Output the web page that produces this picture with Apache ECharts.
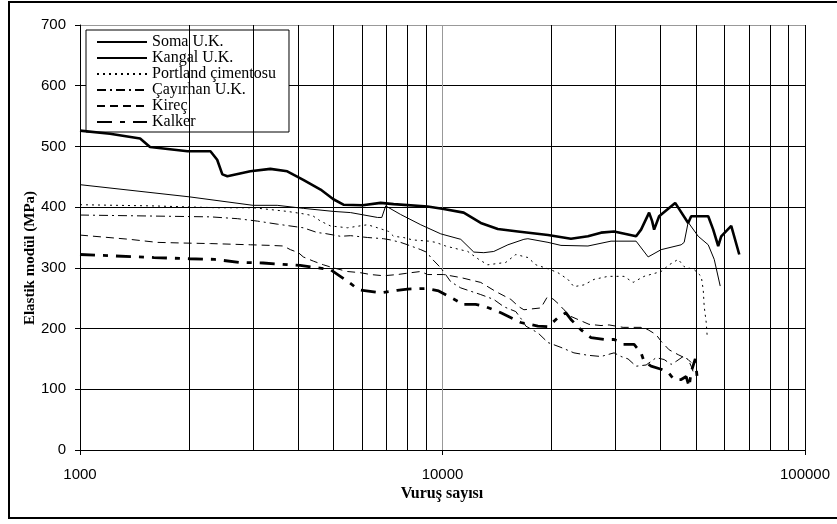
<!DOCTYPE html>
<html>
<head>
<meta charset="utf-8">
<script src="https://cdn.jsdelivr.net/npm/echarts@6/dist/echarts.min.js"></script>
<style>
html,body{margin:0;padding:0;background:#fff;}
#chart{width:837px;height:524px;}
</style>
</head>
<body>
<div id="chart"></div>
<script>
// Series names (legend)
const seriesNames = ['Soma U.K.', 'Kangal U.K.', 'Portland çimentosu', 'Çayırhan U.K.', 'Kireç', 'Kalker'];

// [vuruş sayısı, elastik modül (MPa)]
const soma = [[1000,526],[1210,521],[1465,513],[1560,499],[1980,492],[2290,492],[2390,478],[2470,454],[2550,451],[2950,459],[3350,463],[3730,459],[4130,445],[4610,429],[5000,413],[5330,404],[6020,403],[6750,407],[7330,405],[9100,401],[10080,397],[11440,391],[12750,374],[14210,364],[16140,360],[19540,354],[22610,348],[25190,352],[27370,358],[29740,360],[32500,355],[34200,352],[35300,363],[37150,391],[37870,377],[38350,363],[39590,385],[43840,407],[47610,374],[48530,385],[54080,385],[55820,363],[57620,336],[58730,352],[62590,369],[65870,322]];
const kangal = [[1000,437],[2000,417],[3000,403],[3500,403],[4130,398],[5000,393],[5580,391],[6620,383],[6800,383],[6970,402],[7660,388],[8710,371],[9890,356],[11230,347],[12200,326],[13000,325],[13850,327],[15150,338],[16770,347],[17200,348],[19540,342],[21220,337],[25190,336],[29170,344],[30500,344],[34200,344],[36920,318],[40100,330],[45540,338],[46420,342],[47610,375],[50750,352],[54080,338],[56180,314],[58360,270]];
const portland = [[1000,404],[1600,402],[2400,399],[3000,399],[3350,396],[3730,393],[4130,389],[4380,386],[4610,377],[4910,369],[5470,366],[6210,371],[6620,366],[7100,360],[7330,352],[7810,350],[8270,346],[9160,344],[9580,342],[10200,336],[10670,333],[11740,327],[12590,314],[13330,305],[14950,309],[15930,322],[17200,317],[18100,305],[19660,298],[20820,292],[22180,281],[23040,269],[24570,272],[26180,281],[28620,286],[31690,286],[33550,276],[35980,286],[40100,294],[42190,305],[44690,314],[46420,302],[49480,297],[51730,286],[52390,264],[52720,236],[53400,210],[53730,187]];
const cayirhan = [[1000,387],[2290,384],[2720,381],[3085,377],[3500,372],[4130,366],[4520,358],[4700,357],[5230,352],[5580,353],[6210,350],[6880,348],[7190,346],[7660,342],[8010,338],[8710,330],[9100,325],[9280,317],[9890,300],[10200,289],[10540,277],[11230,267],[12750,256],[13850,248],[14760,236],[15930,228],[16670,212],[16980,204],[18330,193],[19540,177],[21220,169],[23040,160],[25190,156],[27370,154],[29740,160],[31090,154],[32500,150],[34200,138],[36450,140],[38850,152],[40880,149],[42720,141],[44120,146],[46120,154],[47610,149],[48530,138],[49480,124]];
const kirec = [[1000,354],[1370,347],[1630,342],[1890,341],[2290,340],[2950,338],[3350,337],[3640,336],[3805,330],[4005,325],[4130,318],[4406,311],[4695,305],[5000,300],[5470,294],[5940,292],[6330,289],[6880,287],[7520,289],[8170,292],[8710,294],[9100,289],[10080,289],[11230,284],[12750,276],[14030,261],[15440,248],[16240,236],[16770,231],[18680,234],[19410,251],[20160,249],[20950,240],[21630,231],[22610,220],[25360,207],[27370,205],[28810,206],[31490,202],[35300,202],[36920,198],[38850,190],[40100,179],[42190,165],[44690,157],[47610,149],[48530,144]];
const kalker = [[1000,322],[1200,320],[1600,317],[2000,315],[2350,314],[2750,309],[3200,308],[3800,305],[4050,304],[4910,297],[5470,278],[5870,264],[6750,259],[7500,263],[8000,265],[9000,266],[9760,262],[11020,245],[11230,240],[12340,240],[13160,236],[14490,226],[16450,210],[18330,204],[19540,203],[20820,218],[21900,226],[22610,215],[24100,198],[25680,185],[27900,182],[29740,182],[30500,179],[31490,174],[33770,174],[35300,160],[35980,146],[37620,138],[40100,133],[41920,128],[43550,116],[45540,116],[47010,121],[47910,104],[48500,128],[49800,150],[50500,115]];

// Axis ranges / ticks
const xMin = 1000, xMax = 100000;
const yMin = 0, yMax = 700, yStep = 100;
const minorTicks = [2000,3000,4000,5000,6000,7000,8000,9000,20000,30000,40000,50000,60000,70000,80000,90000];

const seriesData = [soma, kangal, portland, cayirhan, kirec, kalker];
const styles = [
  {width: 2.6, type: 'solid'},
  {width: 1, type: 'solid'},
  {width: 1, type: [2, 4]},
  {width: 1, type: [9, 4, 2, 4]},
  {width: 1, type: [8, 5]},
  {width: 2.8, type: [15, 8, 5, 8]}
];

const chart = echarts.init(document.getElementById('chart'), null, {renderer: 'canvas'});
const series = seriesNames.map((name, i) => ({
  name: name,
  type: 'line',
  data: seriesData[i],
  symbol: 'none',
  showSymbol: false,
  smooth: false,
  color: '#000',
  lineStyle: {color: '#000', width: styles[i].width, type: styles[i].type},
  z: 10 - i,
  animation: false
}));
// minor vertical grid lines (2..9 x 10^n)
series[1].markLine = {
  silent: true,
  symbol: 'none',
  animation: false,
  label: {show: false},
  lineStyle: {color: '#000', width: 1, type: 'solid'},
  emphasis: {disabled: true},
  data: minorTicks.map(v => ({xAxis: v}))
};

const yLineColors = [];
for (let v = yMin; v <= yMax; v += yStep) yLineColors.push(v === yMax ? '#999' : '#000');

chart.setOption({
  animation: false,
  backgroundColor: '#fff',
  grid: {left: 80, right: 32, top: 25, bottom: 74, containLabel: false},
  legend: {
    data: seriesNames,
    orient: 'vertical',
    left: 86,
    top: 30,
    itemWidth: 50,
    itemHeight: 14,
    itemGap: 0,
    padding: [4, 13, 2, 10],
    backgroundColor: '#fff',
    borderColor: '#000',
    borderWidth: 1,
    borderRadius: 0,
    selectedMode: false,
    itemStyle: {color: 'rgba(0,0,0,0)', borderWidth: 0, opacity: 0},
    textStyle: {fontFamily: 'Liberation Serif', fontSize: 16, color: '#000', lineHeight: 14}
  },
  xAxis: {
    type: 'log',
    logBase: 10,
    min: xMin,
    max: xMax,
    axisLine: {show: true, lineStyle: {color: '#000', width: 1}},
    axisTick: {show: true, length: 5, lineStyle: {color: '#000'}},
    axisLabel: {
      color: '#000', fontFamily: 'Liberation Sans', fontSize: 15, margin: 17,
      formatter: v => String(Math.round(v))
    },
    splitLine: {show: true, lineStyle: {color: ['#000', '#000', '#999'], width: 1}}
  },
  yAxis: {
    type: 'value',
    min: yMin,
    max: yMax,
    interval: yStep,
    axisLine: {show: true, lineStyle: {color: '#000', width: 1}},
    axisTick: {show: true, length: 5, lineStyle: {color: '#000'}},
    axisLabel: {color: '#000', fontFamily: 'Liberation Sans', fontSize: 15, margin: 14},
    splitLine: {show: true, lineStyle: {color: yLineColors, width: 1}}
  },
  graphic: [
    {type: 'rect', silent: true, shape: {x: 9, y: 2, width: 836, height: 516},
     style: {fill: 'none', stroke: '#000', lineWidth: 2}, z: 100},
    {type: 'text', silent: true, x: 30, y: 258, rotation: Math.PI / 2,
     style: {text: 'Elastik modül (MPa)', fontFamily: 'Liberation Serif', fontWeight: 'bold', fontSize: 15,
             fill: '#000', align: 'center', verticalAlign: 'middle'}},
    {type: 'text', silent: true, x: 442, y: 494,
     style: {text: 'Vuruş sayısı', fontFamily: 'Liberation Serif', fontWeight: 'bold', fontSize: 16,
             fill: '#000', align: 'center', verticalAlign: 'middle'}}
  ],
  series: series
});
</script>
</body>
</html>
